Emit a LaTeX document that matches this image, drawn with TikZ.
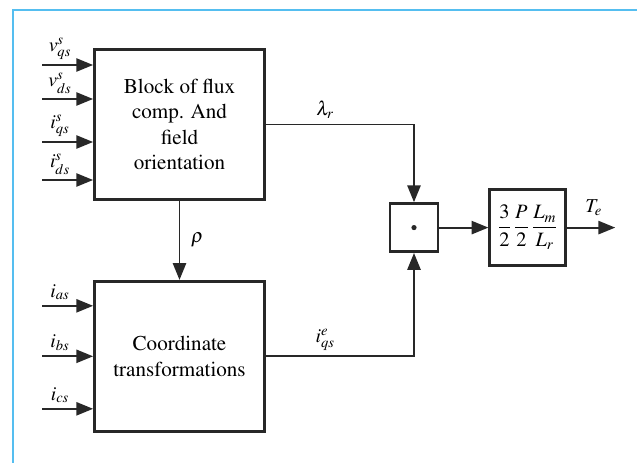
\documentclass[tikz,border=0pt]{standalone}
\usepackage[T1]{fontenc}
\usepackage{mathptmx}
\usepackage{tikz}
\usetikzlibrary{positioning, arrows.meta, calc}
\definecolor{frame_blue}{RGB}{85,190,240}
\definecolor{line_grey}{RGB}{40,40,40}
\tikzstyle{block} = [rectangle, minimum width=4.25cm, minimum height=3.75cm, text centered, align=center, draw=line_grey, line width=2pt]
\tikzstyle{arrow} = [line width=1.4pt, draw=line_grey, -{Triangle[length=0.42cm, width=0.33cm]}]
\tikzstyle{sig} = [font=\fontsize{14}{16}\selectfont]

\begin{document}
\begin{tikzpicture}[font=\fontsize{15}{18}\selectfont]
        \useasboundingbox (0,0) rectangle (15.925,-11.575);
        \draw [frame_blue, line width=0.05cm] (15.925,-0.25) -| (0.325,-11.575);

        \node (flux) [block] at (4.4875,-3.1125) {Block of flux\\comp. And\\field\\orientation};
        \node (coord) [block, below=1.975cm of flux] {Coordinate\\transformations};
        \node (mult) [block, minimum width=1.2cm, minimum height=1.2cm] at (10.35,-5.69) {};
        \fill [line_grey] (mult.center) circle (0.065);
        \node (gain) [block, right=1.225cm of mult, minimum width=1.9cm, minimum height=1.9cm, inner sep=1pt, font=\fontsize{14.5}{16}\selectfont] {$\displaystyle\frac{3}{2}\,\frac{P}{2}\,\frac{L_m}{L_r}$};

        % stator voltages and currents
        \foreach \lab/\dy [count=\i] in {{v_{qs}^s}/1.4875, {v_{ds}^s}/0.6375, {i_{qs}^s}/-0.4375, {i_{ds}^s}/-1.3875} {
            \coordinate (fin\i) at ($(flux.west)+(-1.275,\dy)$);
            \draw [arrow] (fin\i) -- node[sig, pos=0.35, above] {$\lab$} (fin\i -| flux.west);
        }
        \foreach \lab/\dy [count=\i] in {{i_{as}}/1.2625, {i_{bs}}/0, {i_{cs}}/-1.3125} {
            \coordinate (cin\i) at ($(coord.west)+(-1.275,\dy)$);
            \draw [arrow] (cin\i) -- node[sig, pos=0.35, above] {$\lab$} (cin\i -| coord.west);
        }

        \draw [arrow] (flux.south) -- node[sig, right, xshift=0.15cm] {$\rho$} (coord.north);
        \draw [arrow] (flux.east) -| node[sig, pos=0.2, above] {$\lambda_r$} (mult.north);
        \draw [arrow] (coord.east) -| node[sig, pos=0.2, above] {$i_{qs}^e$} (mult.south);
        \draw [arrow] (mult.east) -- (gain.west);
        \coordinate (te) at ($(gain.east)+(1.2,0)$);
        \draw [arrow] (gain.east) -- node[sig, pos=0.55, above, yshift=0.15cm] {$T_e$} (te);
    \end{tikzpicture}
\end{document}
